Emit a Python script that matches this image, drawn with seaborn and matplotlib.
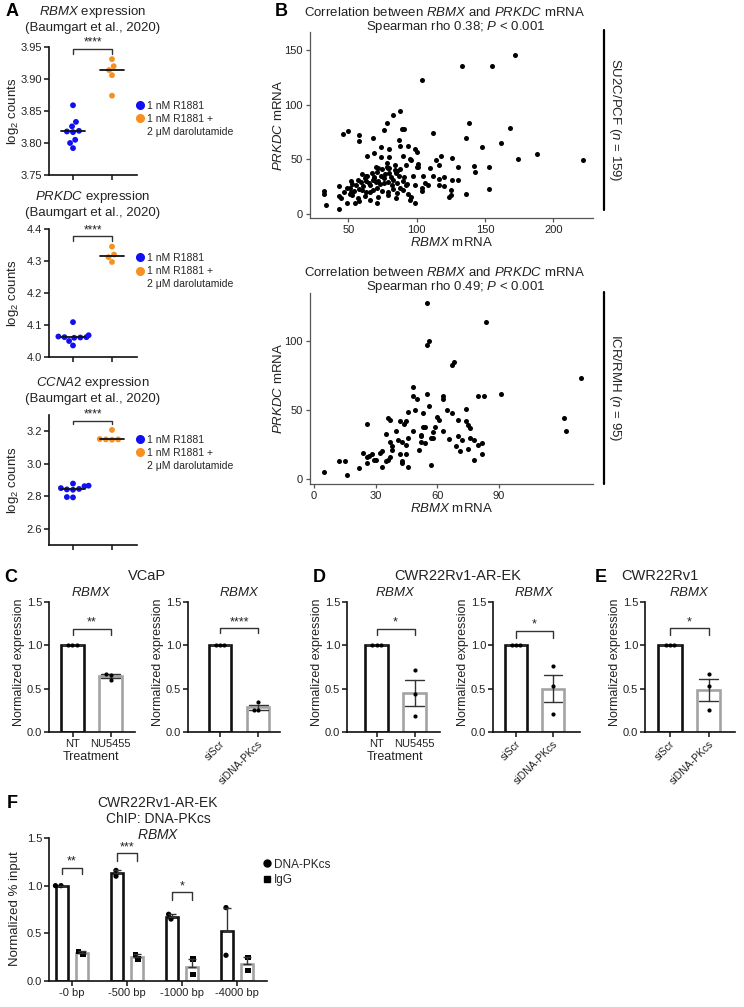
import numpy as np
import pandas as pd
import seaborn as sns
import matplotlib.pyplot as plt
from matplotlib.lines import Line2D

sns.set_theme(style="ticks")
plt.rcParams['font.family'] = ['Liberation Sans', 'DejaVu Sans']
plt.rcParams['mathtext.fontset'] = 'custom'
plt.rcParams['mathtext.rm'] = 'Liberation Sans'
plt.rcParams['mathtext.it'] = 'Liberation Sans:italic'
plt.rcParams['mathtext.bf'] = 'Liberation Sans:bold'

# ---------------- data ----------------
# A: log2 counts (Baumgart et al., 2020)
rbmx_r1881 = [3.859, 3.833, 3.826, 3.819, 3.818, 3.817, 3.805, 3.800, 3.792]
rbmx_daro = [3.931, 3.920, 3.914, 3.906, 3.874]
prkdc_r1881 = [4.109, 4.068, 4.064, 4.062, 4.062, 4.061, 4.060, 4.050, 4.036]
prkdc_daro = [4.345, 4.320, 4.312, 4.297]
ccna2_r1881 = [2.878, 2.865, 2.862, 2.850, 2.845, 2.842, 2.840, 2.795, 2.793]
ccna2_daro = [3.208, 3.152, 3.150, 3.150, 3.148]
groups_a = ['1 nM R1881', '1 nM R1881 +\n2 \u03bcM darolutamide']

# B: SU2C/PCF (RBMX, PRKDC)
su2c_pts = [
    (172, 146), (133, 136), (155, 136), (104, 123), (88, 94), (83, 91), (78, 83), (138, 83),
    (76, 77), (89, 78), (46, 73), (50, 76), (58, 72), (58, 67), (68, 70), (91, 78), (112, 74),
    (168, 79), (87, 68), (136, 70), (162, 65), (148, 61), (74, 61), (80, 59), (88, 62), (94, 62),
    (99, 59), (100, 57), (64, 53), (69, 56), (74, 52), (80, 52), (90, 53), (95, 50), (96, 49),
    (101, 46), (100, 43), (101, 43), (78, 47), (79, 42), (110, 42), (114, 49), (118, 53),
    (116, 45), (126, 51), (130, 43), (142, 44), (143, 38), (153, 43), (174, 50), (188, 55),
    (222, 49), (105, 35), (112, 35), (120, 34), (116, 32), (126, 31), (130, 31), (106, 28),
    (108, 26), (99, 26), (104, 24), (104, 21), (116, 26), (120, 25), (125, 22), (125, 17),
    (124, 15), (136, 18), (153, 23), (96, 15), (95, 13), (99, 10), (71, 10), (32, 21), (32, 18),
    (34, 8), (43, 4), (43, 25), (43, 16), (49, 10), (51, 24), (51, 18), (52, 20), (52, 30),
    (70, 43), (72, 42), (75, 41), (78, 43), (80, 42), (84, 40), (86, 39), (88, 41),
    (60, 36), (63, 35), (67, 37), (69, 34), (74, 35), (77, 36), (81, 34), (85, 37), (87, 35), (91, 34),
    (57, 31), (59, 29), (63, 30), (65, 28), (68, 31), (70, 29), (72, 30), (76, 28), (79, 29),
    (83, 31), (86, 28), (90, 30), (93, 27),
    (49, 24), (54, 21), (58, 23), (63, 20), (68, 22), (71, 24), (75, 21), (79, 20), (83, 23),
    (86, 19), (90, 22), (94, 18),
    (53, 17), (57, 14), (62, 16), (66, 13), (72, 15), (79, 17), (85, 14),
    (55, 10), (58, 12), (45, 14), (61, 25), (66, 26), (73, 27), (69, 33), (56, 26), (47, 20), (53, 27),
    (62, 33), (82, 26), (88, 24), (92, 26), (76, 33), (66, 20), (80, 37), (97, 35), (92, 45),
    (60, 22), (64, 35), (71, 38), (84, 45),
]
su2c_rbmx = [p[0] for p in su2c_pts]
su2c_prkdc = [p[1] for p in su2c_pts]

# B: ICR/RMH (RBMX, PRKDC)
icr_pts = [
    (55, 128), (84, 114), (56, 100), (55, 97), (68, 85), (67, 83), (130, 73), (91, 62), (80, 60),
    (83, 60), (48, 67), (48, 60), (50, 58), (55, 62), (63, 60), (63, 58), (122, 44), (123, 35),
    (49, 50), (46, 49), (42, 42), (44, 40), (45, 42), (56, 53), (53, 48), (65, 50), (67, 48),
    (74, 51), (70, 43), (74, 42), (75, 39), (76, 37), (36, 44), (37, 43), (26, 40), (35, 33),
    (40, 35), (53, 38), (54, 38), (59, 38), (61, 43), (63, 35), (58, 34), (52, 32), (52, 31),
    (57, 30), (58, 30), (66, 29), (70, 31), (72, 28), (76, 30), (78, 28), (82, 26), (80, 25),
    (82, 18), (78, 14), (69, 24), (71, 20), (75, 22), (54, 26), (51, 21), (52, 27), (46, 30),
    (43, 27), (45, 25), (45, 18), (46, 9), (43, 12), (43, 13), (42, 18), (37, 27), (38, 24),
    (38, 21), (37, 16), (36, 14), (33, 20), (32, 19), (33, 9), (30, 14), (29, 14), (28, 18),
    (27, 17), (26, 16), (24, 19), (26, 12), (22, 8), (15, 13), (12, 13), (16, 3), (5, 5),
    (57, 10), (35, 13), (60, 45), (41, 28), (48, 35),
]
icr_rbmx = [p[0] for p in icr_pts]
icr_prkdc = [p[1] for p in icr_pts]

# C-E: normalized RBMX expression
vcap_nu = ([1.0, 1.0, 1.0], [0.67, 0.66, 0.60])
vcap_si = ([1.0, 1.0, 1.0], [0.35, 0.25, 0.25])
arek_nu = ([1.0, 1.0, 1.0], [0.72, 0.44, 0.19])
arek_si = ([1.0, 1.0, 1.0], [0.76, 0.53, 0.21])
rv1_si = ([1.0, 1.0, 1.0], [0.67, 0.53, 0.25])
nu_labels = ['NT', 'NU5455']
si_labels = ['siScr', 'siDNA-PKcs']

# F: ChIP DNA-PKcs at RBMX
chip_regions = ['-0 bp', '-500 bp', '-1000 bp', '-4000 bp']
chip_dnapk = [[1.00, 1.00], [1.10, 1.16], [0.65, 0.70], [0.77, 0.27]]
chip_igg = [[0.28, 0.31], [0.23, 0.28], [0.23, 0.07], [0.25, 0.11]]

BLUE = '#1010f0'
ORANGE = '#f7901e'
GRAY = '#a3a3a3'
TXT = '#222222'

W, H = 744, 1007
fig = plt.figure(figsize=(W / 100, H / 100), dpi=100)


def add_ax(x0, y0, x1, y1):
    return fig.add_axes([x0 / W, 1 - y1 / H, (x1 - x0) / W, (y1 - y0) / H])


def ftext(x, y, s, **kw):
    kw.setdefault('ha', 'center')
    kw.setdefault('va', 'center')
    kw.setdefault('color', TXT)
    fig.text(x / W, 1 - y / H, s, **kw)


def cat_xlim(x0, x1, c0, c1):
    unit = c1 - c0
    return (x0 - c0) / unit, (x1 - c0) / unit


def style_prism(ax):
    sns.despine(ax=ax)
    for s in ['left', 'bottom']:
        ax.spines[s].set_linewidth(1.2)
        ax.spines[s].set_color('#111111')
    ax.tick_params(length=3.5, width=1.1, color='#111111', labelsize=8, labelcolor=TXT, pad=1.5)


def bracket(ax, x1, x2, y, tip, text, fs=9):
    ax.plot([x1, x1, x2, x2], [tip, y, y, tip], color='#333333', lw=1, clip_on=False)
    ax.text((x1 + x2) / 2, y, text, ha='center', va='bottom', fontsize=fs, color=TXT, clip_on=False)


# ---------------- panel A ----------------
def strip_panel(box, ctrl, treat, ylim, yticks, fmt, gene, title_y, leg_y, br):
    ax = add_ax(*box)
    df = pd.DataFrame({'group': [groups_a[0]] * len(ctrl) + [groups_a[1]] * len(treat),
                       'value': ctrl + treat})
    sns.swarmplot(data=df, x='group', y='value', hue='group', palette=[BLUE, ORANGE],
                  size=4.2, legend=False, ax=ax)
    med = df.groupby('group', sort=False)['value'].median()
    for i, m in enumerate(med):
        ax.plot([i - 0.32, i + 0.32], [m, m], color='#111111', lw=1.3, zorder=5)
    ax.set_xlim(*cat_xlim(box[0], box[2], 73, 112))
    ax.set_ylim(*ylim)
    ax.set_yticks(yticks)
    ax.set_yticklabels([fmt.format(t) for t in yticks])
    ax.set_xticks([0, 1])
    ax.set_xticklabels([])
    ax.set_xlabel('')
    ax.set_ylabel('')
    style_prism(ax)
    ftext(93, title_y, r'$\it{' + gene + '}$ expression', fontsize=9.5)
    ftext(93, title_y + 16, '(Baumgart et al., 2020)', fontsize=9.5)
    ftext(13, (box[1] + box[3]) / 2, r'log$_2$ counts', fontsize=9.5, rotation=90)
    # legend: second label split so its marker sits on the first line
    lab1, lab2 = groups_a[1].split('\n')
    handles = [Line2D([], [], marker='o', ls='', color=c, markersize=5.5) for c in [BLUE, ORANGE]]
    handles.append(Line2D([], [], ls='', marker=None))
    ax.legend(handles, [groups_a[0], lab1, lab2], loc='center left', bbox_to_anchor=(1.0, leg_y),
              frameon=False, fontsize=7.5, handlelength=0.6, handletextpad=0.35,
              labelspacing=0.3, borderpad=0, borderaxespad=0)
    bracket(ax, 0, 1, br[0], br[1], '****', fs=8.5)
    return ax


strip_panel((49, 47, 137, 175), rbmx_r1881, rbmx_daro, (3.75, 3.95),
            [3.75, 3.80, 3.85, 3.90, 3.95], '{:.2f}', 'RBMX', 12, 0.44, (3.947, 3.939))
strip_panel((49, 229, 137, 357), prkdc_r1881, prkdc_daro, (4.0, 4.4),
            [4.0, 4.1, 4.2, 4.3, 4.4], '{:.1f}', 'PRKDC', 197, 0.67, (4.378, 4.362))
strip_panel((49, 415, 137, 545), ccna2_r1881, ccna2_daro, (2.5, 3.3),
            [2.6, 2.8, 3.0, 3.2], '{:.1f}', 'CCNA2', 383, 0.71, (3.265, 3.245))


# ---------------- panel B ----------------
def scatter_panel(box, xs, ys, xlim, ylim, xticks, yticks, title_y, rho, cohort, n, strip_y):
    ax = add_ax(*box)
    df = pd.DataFrame({'RBMX': xs, 'PRKDC': ys})
    sns.scatterplot(data=df, x='RBMX', y='PRKDC', color='black', s=13, linewidth=0, ax=ax)
    ax.set_xlim(*xlim)
    ax.set_ylim(*ylim)
    ax.set_xticks(xticks)
    ax.set_yticks(yticks)
    ax.set_xlabel('')
    ax.set_ylabel('')
    sns.despine(ax=ax)
    for s in ['left', 'bottom']:
        ax.spines[s].set_linewidth(0.9)
        ax.spines[s].set_color('#555555')
    ax.tick_params(length=3, width=0.9, color='#555555', labelsize=8, labelcolor='#222222', pad=2)
    ftext(445, title_y, r'Correlation between $\it{RBMX}$ and $\it{PRKDC}$ mRNA', fontsize=9.5)
    ftext(456, title_y + 15, r'Spearman rho ' + rho + r'; $\it{P}$ < 0.001', fontsize=9.5)
    ftext(451, box[3] + 25, r'$\it{RBMX}$ mRNA', fontsize=9.5)
    ftext(279, (box[1] + box[3]) / 2, r'$\it{PRKDC}$ mRNA', fontsize=9.5, rotation=90)
    y0 = (box[3] - strip_y[1]) / (box[3] - box[1])
    y1 = (box[3] - strip_y[0]) / (box[3] - box[1])
    xl = (604 - box[0]) / (box[2] - box[0])
    ax.plot([xl, xl], [y0, y1], transform=ax.transAxes, color='black', lw=1.6, clip_on=False)
    ftext(615, (strip_y[0] + strip_y[1]) / 2, cohort + r' ($\it{n}$ = ' + str(n) + ')',
          fontsize=9.5, rotation=-90)
    return ax


scatter_panel((310, 32, 593, 218), su2c_rbmx, su2c_prkdc, (22, 229), (-4, 167),
              [50, 100, 150, 200], [0, 50, 100, 150], 12, '0.38', 'SU2C/PCF', 159, (30, 210))
scatter_panel((310, 293, 593, 484), icr_rbmx, icr_prkdc, (-2, 136), (-3.6, 135),
              [0, 30, 60, 90], [0, 50, 100], 272, '0.49', 'ICR/RMH', 95, (292, 484))


# ---------------- panels C-E ----------------
def expr_panel(box, centers, labels, data, sig, br, rotate, xlab=None):
    ax = add_ax(*box)
    ctrl, treat = data
    df = pd.DataFrame({'cond': [labels[0]] * len(ctrl) + [labels[1]] * len(treat),
                       'value': ctrl + treat})
    sns.barplot(data=df, x='cond', y='value', hue='cond', palette=['#111111', GRAY], fill=False,
                linewidth=1.9, width=0.6, errorbar='se', capsize=0.5,
                err_kws={'color': '#333333', 'linewidth': 1.0}, legend=False, ax=ax)
    sns.swarmplot(data=df, x='cond', y='value', color='black', size=3.0, ax=ax)
    ax.set_xlim(*cat_xlim(box[0], box[2], centers[0], centers[1]))
    ax.set_ylim(0, 1.5)
    ax.set_yticks([0, 0.5, 1.0, 1.5])
    ax.set_yticklabels(['0.0', '0.5', '1.0', '1.5'])
    ax.set_xlabel('')
    ax.set_ylabel('')
    style_prism(ax)
    if rotate:
        ax.set_xticks([0, 1])
        ax.set_xticklabels(labels, rotation=45, ha='right', rotation_mode='anchor', fontsize=7.5)
    else:
        ax.tick_params(axis='x', labelsize=8)
    ftext(box[0] - 30, 662, 'Normalized expression', fontsize=9, rotation=90)
    ftext((centers[0] + centers[1]) / 2, 593, r'$\it{RBMX}$', fontsize=9.5)
    if xlab:
        ftext((centers[0] + centers[1]) / 2, 757, xlab, fontsize=9)
    bracket(ax, 0, 1, br[0], br[1], sig)
    return ax


expr_panel((49, 602, 135, 732), (72.5, 110.5), nu_labels, vcap_nu, '**', (1.19, 1.12), False, 'Treatment')
expr_panel((188, 602, 280, 732), (220, 258), si_labels, vcap_si, '****', (1.20, 1.14), True)
expr_panel((347, 602, 440, 732), (376.5, 414.5), nu_labels, arek_nu, '*', (1.19, 1.12), False, 'Treatment')
expr_panel((493, 602, 580, 732), (516, 553), si_labels, arek_si, '*', (1.17, 1.08), True)
expr_panel((645, 602, 735, 732), (670, 708.5), si_labels, rv1_si, '*', (1.20, 1.12), True)

ftext(147, 576, 'VCaP', fontsize=10.5)
ftext(458, 576, 'CWR22Rv1-AR-EK', fontsize=10.5)
ftext(660, 576, 'CWR22Rv1', fontsize=10.5)

# ---------------- panel F ----------------
axf = add_ax(49, 838, 267, 981)
rows = []
for reg, a, b in zip(chip_regions, chip_dnapk, chip_igg):
    rows += [(reg, 'DNA-PKcs', v) for v in a]
    rows += [(reg, 'IgG', v) for v in b]
df_f = pd.DataFrame(rows, columns=['region', 'target', 'value'])
sns.barplot(data=df_f, x='region', y='value', hue='target', palette=['#111111', GRAY],
            fill=False, linewidth=1.9, width=0.72, gap=0.39, errorbar=None, legend=False, ax=axf)
stats = df_f.groupby(['region', 'target'], sort=False)['value'].agg(['mean', 'sem']).reset_index()
for _, r in stats.iterrows():
    xi = chip_regions.index(r['region']) + (-0.18 if r['target'] == 'DNA-PKcs' else 0.18)
    axf.errorbar(xi, r['mean'], yerr=[[0], [r['sem']]], color='#333333', lw=1.0,
                 capsize=3, capthick=1.0, zorder=4)
for tgt, mk in [('DNA-PKcs', 'o'), ('IgG', 's')]:
    sns.swarmplot(data=df_f[df_f['target'] == tgt], x='region', y='value', hue='target',
                  hue_order=['DNA-PKcs', 'IgG'], palette=['black', 'black'], dodge=True,
                  marker=mk, size=3.8, legend=False, ax=axf)
axf.set_xlim(*cat_xlim(49, 267, 72, 127))
axf.set_ylim(0, 1.5)
axf.set_yticks([0, 0.5, 1.0, 1.5])
axf.set_yticklabels(['0.0', '0.5', '1.0', '1.5'])
axf.set_xlabel('')
axf.set_ylabel('')
style_prism(axf)
bracket(axf, -0.18, 0.18, 1.19, 1.12, '**')
bracket(axf, 0.82, 1.18, 1.34, 1.26, '***')
bracket(axf, 1.82, 2.18, 0.93, 0.85, '*')
hf = [Line2D([], [], marker='o', ls='', color='black', markersize=5),
      Line2D([], [], marker='s', ls='', color='black', markersize=5)]
axf.legend(hf, ['DNA-PKcs', 'IgG'], loc='center left', bbox_to_anchor=(0.985, 0.76), frameon=False,
           fontsize=8.5, handlelength=0.6, handletextpad=0.3, labelspacing=0.3,
           borderpad=0, borderaxespad=0)
ftext(158, 803, 'CWR22Rv1-AR-EK', fontsize=10)
ftext(158, 819, 'ChIP: DNA-PKcs', fontsize=10)
ftext(158, 835, r'$\it{RBMX}$', fontsize=10)
ftext(15, 909, 'Normalized % input', fontsize=9.5, rotation=90)

# panel letters
for letter, x, y in [('A', 12, 12), ('B', 281, 12), ('C', 11, 577), ('D', 319, 577),
                     ('E', 601, 577), ('F', 12, 803)]:
    ftext(x, y, letter, fontsize=13, fontweight='bold', color='black')

fig.savefig('out.png', dpi=100)
